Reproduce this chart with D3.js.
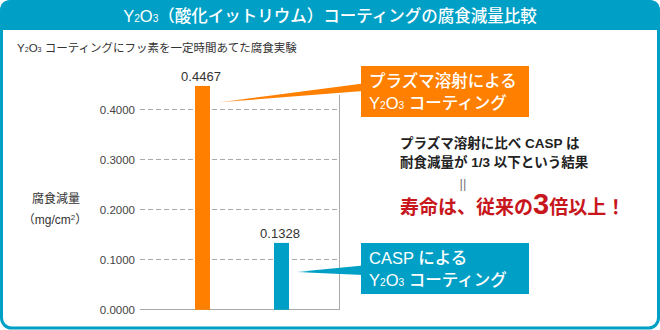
<!DOCTYPE html>
<html><head><meta charset="utf-8">
<script src="https://cdn.jsdelivr.net/npm/d3@7"></script>
<style>
html,body{margin:0;padding:0;background:#fff;}
svg{display:block;font-family:"Liberation Sans","Noto Sans CJK JP",sans-serif;}
</style></head>
<body>
<svg id="c" width="660" height="330"></svg>
<script>
// ---- data ----
const categories = ["プラズマ溶射", "CASP"];
const values = [0.4467, 0.1328];
const valueLabels = ["0.4467", "0.1328"];
const tickValues = [0, 0.1, 0.2, 0.3, 0.4];
const tickLabels = ["0.0000", "0.1000", "0.2000", "0.3000", "0.4000"];
const barColors = ["#ff8000", "#00a0c6"];

const TEAL = "#00a0c6";
const FONT = "\"Liberation Sans\",\"Noto Sans CJK JP\",sans-serif";
const svg = d3.select("#c");

// frame
svg.append("rect").attr("x",1.5).attr("y",1.5).attr("width",657).attr("height",326.5)
  .attr("rx",10).attr("fill","#fff").attr("stroke",TEAL).attr("stroke-width",3);
svg.append("path").attr("d","M0,30 L0,11 Q0,0 11,0 L649,0 Q660,0 660,11 L660,30 Z").attr("fill",TEAL);

function y2o3(sel, size){
  sel.append("tspan").text("Y");
  sel.append("tspan").attr("font-size", size*0.62).text("2");
  sel.append("tspan").text("O");
  sel.append("tspan").attr("font-size", size*0.62).text("3");
}

// title
const title = svg.append("text").attr("x",330).attr("y",22).attr("text-anchor","middle")
  .attr("fill","#fff").attr("font-size",16.5).attr("font-weight",500);
y2o3(title,16.5);
title.append("tspan").text("（酸化イットリウム）コーティングの腐食減量比較");

// subtitle
const sub = svg.append("text").attr("x",17).attr("y",52).attr("fill","#333").attr("font-size",11.5);
y2o3(sub,11.5);
sub.append("tspan").text(" コーティングにフッ素を一定時間あてた腐食実験");

// scales
const y = d3.scaleLinear().domain([0,0.4]).range([309.3,109.3]);
const x = d3.scalePoint().domain(categories).range([202.5,281.5]);
const barW = 15;
const plotL = 140, plotR = 339.5;

// grid
const grid = svg.append("g");
grid.selectAll("line").data(tickValues.filter(d=>d>0)).join("line")
  .attr("x1",plotL).attr("x2",plotR).attr("y1",d=>Math.round(y(d))+0.5).attr("y2",d=>Math.round(y(d))+0.5)
  .attr("stroke","#aaa").attr("stroke-width",1).attr("stroke-dasharray","5,3");
// baseline & right line
svg.append("line").attr("x1",plotL).attr("x2",plotR).attr("y1",Math.round(y(0))+0.5).attr("y2",Math.round(y(0))+0.5)
  .attr("stroke","#aaa").attr("stroke-width",1);
svg.append("line").attr("x1",plotR).attr("x2",plotR).attr("y1",95).attr("y2",Math.round(y(0))+1)
  .attr("stroke","#aaa").attr("stroke-width",1);

// axis tick labels
const axis = d3.axisLeft(y).tickValues(tickValues).tickFormat((d,i)=>tickLabels[i]).tickSize(0).tickPadding(0);
const ag = svg.append("g").attr("transform",`translate(135,0)`).call(axis);
ag.select(".domain").remove();
ag.selectAll("text").attr("font-size",11.5).attr("fill","#444").attr("font-family",FONT).attr("dy","0.36em");

// y label
svg.append("text").attr("x",56).attr("y",203).attr("text-anchor","middle").attr("font-size",12).attr("fill","#333").text("腐食減量");
const yl = svg.append("text").attr("x",55).attr("y",224).attr("text-anchor","middle").attr("font-size",12).attr("fill","#333");
yl.append("tspan").text("（mg/cm");
yl.append("tspan").attr("font-size",8).attr("dy",-4).text("2");
yl.append("tspan").attr("dy",4).text("）");

// defs gradients for wedges
const defs = svg.append("defs");
barColors.forEach((c,i)=>{
  const g = defs.append("linearGradient").attr("id","wg"+i).attr("x1","0").attr("x2","1").attr("y1","0").attr("y2","0");
  g.append("stop").attr("offset","0").attr("stop-color",c).attr("stop-opacity",0.35);
  g.append("stop").attr("offset","0.2").attr("stop-color",c).attr("stop-opacity",1);
  g.append("stop").attr("offset","1").attr("stop-color",c).attr("stop-opacity",1);
});

// wedges (annotation pointers)
const wedges = [
  [[217,102.5],[363,83.5],[363,91]],
  [[296,272],[363,265.5],[363,275]]
];
svg.selectAll("polygon.w").data(wedges).join("polygon").attr("class","w")
  .attr("points",d=>d.map(p=>p.join(",")).join(" "))
  .attr("fill",(d,i)=>`url(#wg${i})`);

// bars
svg.selectAll("rect.bar").data(values).join("rect").attr("class","bar")
  .attr("x",(d,i)=>x(categories[i])-barW/2).attr("width",barW)
  .attr("y",d=>y(d)).attr("height",d=>y(0)-y(d)+0.5)
  .attr("fill",(d,i)=>barColors[i]);

// value labels
svg.selectAll("text.vl").data(values).join("text").attr("class","vl")
  .attr("x",(d,i)=>x(categories[i])-1.5).attr("y",d=>y(d)-5)
  .attr("text-anchor","middle").attr("font-size",13).attr("fill","#333")
  .text((d,i)=>valueLabels[i]);

// callout boxes
const boxes = [
  {y:66, color:barColors[0], l1:"プラズマ溶射による"},
  {y:243, color:barColors[1], l1:"CASP による"}
];
boxes.forEach(b=>{
  svg.append("rect").attr("x",361).attr("y",b.y).attr("width",168).attr("height",51).attr("fill",b.color);
  svg.append("text").attr("x",369).attr("y",b.y+21).attr("fill","#fff").attr("font-size",16.5).attr("font-weight",500).text(b.l1);
  const t = svg.append("text").attr("x",369).attr("y",b.y+43).attr("fill","#fff").attr("font-size",16.5).attr("font-weight",500);
  y2o3(t,16.5);
  t.append("tspan").text(" コーティング");
});

// right-side conclusion
svg.append("text").attr("x",400).attr("y",148).attr("font-size",13.5).attr("font-weight",700).attr("fill","#222")
  .text("プラズマ溶射に比べ CASP は");
svg.append("text").attr("x",400).attr("y",167).attr("font-size",13.5).attr("font-weight",700).attr("fill","#222")
  .text("耐食減量が 1/3 以下という結果");
svg.append("text").attr("x",463).attr("y",188).attr("text-anchor","middle").attr("font-size",13).attr("fill","#777").text("||");
const red = svg.append("text").attr("x",400).attr("y",214).attr("fill","#c8161d").attr("font-size",19).attr("font-weight",700);
red.append("tspan").text("寿命は、従来の");
red.append("tspan").attr("font-size",29).text("3");
red.append("tspan").text("倍以上！");
</script>
</body></html>
